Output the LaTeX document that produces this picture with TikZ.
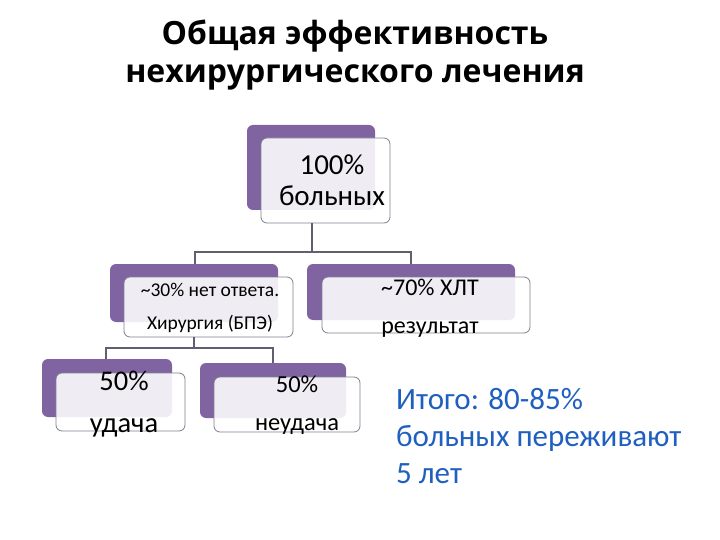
\documentclass[tikz,border=0pt]{standalone}
\usepackage{fontspec}
\setmainfont{Carlito}
\newfontfamily\titlefont{Open Sans}
\definecolor{purp}{HTML}{8064A2}
\definecolor{edge}{HTML}{7F7F8F}
\definecolor{conn}{HTML}{5F5F6F}
\definecolor{blu}{HTML}{1F5FBF}
\begin{document}
\begin{tikzpicture}[x=1pt,y=-1pt,
  back/.style={fill=purp,rounded corners=6pt},
  front/.style={fill=white,fill opacity=0.88,draw=edge,line width=0.8pt,rounded corners=6pt},
  lbl/.style={align=center,inner sep=0pt},
  conn/.style={draw=conn,line width=1.4pt}]
\useasboundingbox (0,0) rectangle (720,540);
\node[lbl,font=\titlefont\bfseries\fontsize{32}{38}\selectfont] (title) at (355,55) {Общая эффективность\\нехирургического лечения};
% box 1
\fill[back] (247,125) rectangle (375,210);
\draw[front] (261,138) rectangle (390,223);
\node[lbl,font=\fontsize{29}{31}\selectfont] (b1) at (332,180) {100\%\\больных};
\coordinate (b1s) at (312,223);
% box 2L
\fill[back] (110,264) rectangle (278,322);
\draw[front] (124,277) rectangle (293,337);
\node[lbl,font=\fontsize{19.5}{33}\selectfont] (b2) at (210,308) {\textasciitilde30\% нет ответа.\\Хирургия (БПЭ)};
\coordinate (b2n) at (195,264);\coordinate (b2s) at (194,337);
% box 2R
\fill[back] (307,264) rectangle (515,320);
\draw[front] (322,277) rectangle (530,333);
\node[lbl,font=\fontsize{24}{38}\selectfont] (b3) at (430,308) {\textasciitilde70\% ХЛТ\\результат};
\coordinate (b3n) at (411,264);
% box 3a
\fill[back] (42,359) rectangle (172,417);
\draw[front] (56,373) rectangle (185,431);
\node[lbl,font=\fontsize{28.5}{42}\selectfont] (b4) at (124,404) {50\%\\удача};
\coordinate (b4n) at (106,359);
% box 3b
\fill[back] (200,363) rectangle (346,418);
\draw[front] (214,377) rectangle (360,432);
\node[lbl,font=\fontsize{24.5}{38}\selectfont] (b5) at (297,405) {50\%\\неудача};
\coordinate (b5n) at (273,363);
% connectors
\draw[conn] (b1s) -- (312,252) (b2n) |- (312,252) -| (b3n);
\draw[conn] (b2s) -- (194,348) (b4n) |- (194,348) -| (b5n);
% summary
\node[lbl,align=left,anchor=west,text=blu,font=\fontsize{31}{37}\selectfont] (sum) at (396,436) {Итого: 80-85\%\\больных переживают\\5 лет};
\end{tikzpicture}
\end{document}
